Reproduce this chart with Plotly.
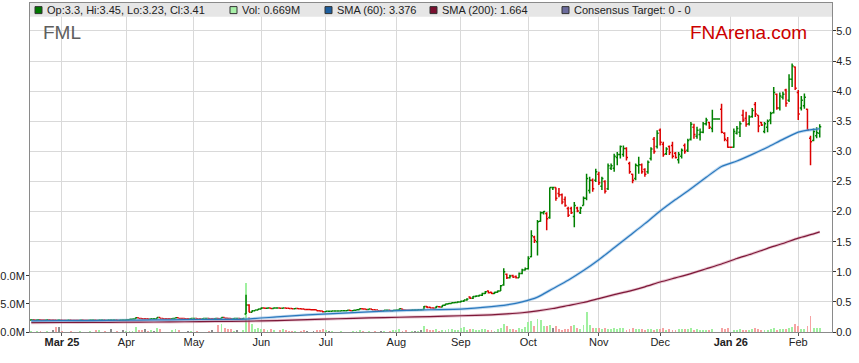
import plotly.graph_objects as go
import pandas as pd

# ---------------- DATA ----------------
# weekday calendar used by the chart (holidays appear as flat bars)
dates = [d.strftime("%Y-%m-%d") for d in pd.bdate_range("2025-02-17", "2026-02-11")]

opens = [
    .200, .205, .200, .205, .200, .200, .205, .200, .200, .200,
    .200, .195, .195, .200, .195, .195, .195, .200, .195, .195,
    .200, .200, .195, .200, .200, .195, .200, .200, .200, .195,
    .200, .200, .205, .210, .215, .235, .225, .220, .220, .215,
    .220, .220, .240, .225, .220, .220, .220, .225, .235, .225,
    .225, .220, .220, .225, .225, .220, .220, .225, .225, .220,
    .220, .225, .220, .240, .230, .225, .220, .225, .225, .220,
    .300, .450, .330, .355, .365, .380, .400, .395, .400, .390,
    .400, .400, .395, .400, .395, .390, .385, .390, .385, .380,
    .375, .375, .370, .370, .355, .350, .335, .345, .345, .350,
    .350, .350, .355, .355, .360, .355, .360, .370, .385, .380,
    .375, .380, .370, .365, .355, .355, .360, .360, .355, .360,
    .365, .380, .365, .360, .360, .365, .365, .370, .375, .425,
    .410, .400, .400, .420, .415, .445, .465, .475, .485, .490,
    .50, .51, .53, .58, .56, .59, .60, .61, .64, .68,
    .66, .64, .66, .68, .78, .96, .90, .94, .92, .90,
    .97, 1.03, 1.05, 1.25, 1.58, 1.50, 1.84, 1.98, 1.97, 1.90,
    2.40, 2.40, 2.30, 2.28, 2.20, 2.05, 2.05, 1.92, 2.06, 1.98,
    2.10, 2.22, 2.35, 2.52, 2.52, 2.62, 2.42, 2.50, 2.38, 2.72,
    2.72, 2.90, 2.95, 2.95, 3.05, 2.80, 2.62, 2.55, 2.76, 2.78,
    2.70, 2.66, 2.88, 3.20, 3.08, 3.35, 3.12, 2.96, 3.08, 3.10,
    2.97, 2.86, 2.92, 3.10, 3.02, 3.20, 3.40, 3.25, 3.28, 3.32,
    3.46, 3.48, 3.38, 3.54, 3.54, 3.70, 3.30, 3.18, 3.07, 3.07,
    3.30, 3.32, 3.60, 3.55, 3.46, 3.58, 3.78, 3.60, 3.48, 3.33,
    3.40, 3.52, 3.64, 3.95, 3.72, 3.90, 4.02, 3.85, 4.20, 4.40,
    3.98, 3.72, 3.76, 3.70, 3.22, 3.18, 3.26, 3.30,
]

highs = [
    .210, .210, .205, .210, .205, .210, .210, .205, .205, .205,
    .200, .200, .200, .200, .200, .200, .200, .200, .200, .200,
    .205, .200, .200, .205, .200, .200, .205, .200, .200, .200,
    .205, .205, .210, .215, .240, .235, .225, .225, .220, .220,
    .225, .245, .240, .225, .220, .220, .225, .240, .235, .225,
    .225, .225, .225, .230, .225, .225, .225, .230, .225, .225,
    .225, .225, .245, .240, .230, .225, .225, .230, .225, .225,
    .620, .460, .360, .370, .385, .410, .400, .405, .400, .405,
    .400, .400, .405, .400, .395, .390, .395, .390, .385, .380,
    .380, .375, .375, .370, .355, .350, .345, .350, .350, .355,
    .355, .360, .360, .365, .360, .365, .375, .390, .385, .380,
    .385, .380, .370, .365, .360, .365, .365, .360, .365, .370,
    .390, .385, .365, .365, .370, .370, .375, .375, .430, .430,
    .420, .410, .430, .430, .450, .470, .480, .490, .500, .510,
    .52, .53, .56, .59, .60, .61, .62, .65, .68, .69,
    .67, .67, .69, .78, 1.06, .97, .95, .95, .94, .99,
    1.05, 1.07, 1.26, 1.69, 1.60, 1.86, 2.00, 2.01, 1.99, 2.40,
    2.40, 2.40, 2.39, 2.30, 2.25, 2.08, 2.08, 2.16, 2.08, 2.08,
    2.25, 2.63, 2.58, 2.55, 2.71, 2.66, 2.58, 2.52, 2.80, 2.80,
    2.96, 2.99, 3.10, 3.10, 3.07, 2.83, 2.63, 2.80, 2.91, 2.80,
    2.72, 2.85, 3.07, 3.24, 3.35, 3.38, 3.16, 3.07, 3.10, 3.16,
    2.99, 2.99, 3.05, 3.13, 3.21, 3.49, 3.46, 3.41, 3.38, 3.49,
    3.56, 3.49, 3.69, 3.54, 3.54, 3.79, 3.32, 3.24, 3.07, 3.38,
    3.42, 3.50, 3.69, 3.66, 3.60, 3.72, 3.82, 3.60, 3.49, 3.49,
    3.53, 3.66, 4.07, 3.96, 3.98, 3.99, 4.04, 4.28, 4.46, 4.41,
    4.02, 3.92, 3.96, 3.71, 3.26, 3.38, 3.40, 3.45,
]

lows = [
    .200, .200, .195, .200, .195, .200, .200, .195, .195, .195,
    .195, .190, .195, .195, .190, .195, .195, .195, .190, .195,
    .200, .195, .195, .200, .195, .195, .200, .195, .195, .195,
    .200, .200, .205, .210, .215, .225, .220, .215, .215, .215,
    .220, .220, .225, .220, .220, .220, .220, .225, .225, .225,
    .220, .220, .220, .225, .220, .220, .220, .225, .220, .220,
    .220, .220, .220, .230, .225, .220, .220, .225, .220, .220,
    .300, .330, .330, .355, .365, .380, .390, .395, .390, .390,
    .400, .395, .395, .395, .390, .385, .385, .385, .380, .375,
    .370, .370, .365, .355, .345, .325, .335, .340, .345, .345,
    .345, .350, .350, .355, .355, .355, .360, .370, .375, .370,
    .375, .365, .360, .355, .350, .355, .355, .355, .355, .355,
    .360, .360, .355, .355, .355, .360, .360, .360, .370, .400,
    .395, .390, .395, .410, .410, .440, .460, .470, .480, .485,
    .49, .50, .52, .55, .55, .58, .59, .60, .63, .64,
    .63, .63, .65, .68, .77, .88, .89, .90, .89, .90,
    .96, 1.02, 1.04, 1.24, 1.48, 1.27, 1.83, 1.95, 1.69, 1.88,
    2.36, 2.18, 2.24, 2.12, 2.08, 1.91, 1.96, 1.74, 1.99, 1.96,
    2.10, 2.19, 2.30, 2.33, 2.49, 2.44, 2.36, 2.30, 2.36, 2.69,
    2.66, 2.77, 2.88, 2.91, 2.85, 2.63, 2.47, 2.52, 2.63, 2.63,
    2.58, 2.63, 2.85, 2.96, 3.05, 3.10, 2.91, 2.94, 2.94, 2.88,
    2.88, 2.80, 2.88, 2.96, 2.99, 3.18, 3.21, 3.21, 3.18, 3.30,
    3.43, 3.37, 3.32, 3.54, 3.54, 3.30, 3.17, 3.06, 3.07, 3.06,
    3.28, 3.24, 3.49, 3.41, 3.43, 3.56, 3.57, 3.32, 3.42, 3.30,
    3.32, 3.45, 3.63, 3.69, 3.68, 3.86, 3.74, 3.82, 4.07, 4.02,
    3.52, 3.68, 3.71, 3.35, 2.77, 3.17, 3.22, 3.23,
]

closes = [
    .205, .200, .205, .200, .200, .205, .200, .200, .195, .200,
    .195, .195, .200, .195, .195, .195, .200, .195, .195, .200,
    .200, .195, .200, .200, .195, .200, .200, .200, .195, .200,
    .200, .205, .210, .215, .235, .225, .220, .220, .215, .220,
    .220, .240, .225, .220, .220, .220, .225, .235, .225, .225,
    .220, .220, .225, .225, .220, .220, .225, .225, .220, .220,
    .225, .220, .240, .230, .225, .220, .225, .225, .220, .225,
    .450, .330, .355, .365, .380, .400, .395, .400, .390, .400,
    .400, .395, .400, .395, .390, .385, .390, .385, .380, .375,
    .375, .370, .370, .355, .350, .335, .345, .345, .350, .350,
    .350, .355, .355, .360, .355, .360, .370, .385, .380, .375,
    .380, .370, .365, .355, .355, .360, .360, .355, .360, .365,
    .385, .365, .360, .360, .365, .365, .370, .370, .425, .405,
    .400, .395, .425, .415, .445, .465, .475, .485, .490, .500,
    .51, .53, .55, .56, .59, .60, .61, .64, .67, .65,
    .64, .66, .68, .77, 1.00, .90, .93, .91, .90, .97,
    1.03, 1.05, 1.22, 1.60, 1.52, 1.83, 1.98, 2.00, 1.88, 2.40,
    2.40, 2.22, 2.28, 2.16, 2.10, 1.94, 1.98, 2.10, 2.01, 2.06,
    2.22, 2.55, 2.52, 2.38, 2.66, 2.48, 2.55, 2.34, 2.76, 2.76,
    2.92, 2.95, 3.08, 3.05, 2.90, 2.66, 2.52, 2.77, 2.78, 2.66,
    2.62, 2.82, 3.04, 3.00, 3.30, 3.15, 2.95, 3.04, 2.98, 2.92,
    2.90, 2.95, 3.02, 3.00, 3.18, 3.45, 3.28, 3.35, 3.32, 3.46,
    3.52, 3.40, 3.54, 3.54, 3.54, 3.32, 3.20, 3.07, 3.07, 3.33,
    3.38, 3.46, 3.52, 3.45, 3.57, 3.68, 3.62, 3.42, 3.44, 3.46,
    3.50, 3.63, 3.98, 3.72, 3.92, 3.95, 3.80, 4.20, 4.42, 4.05,
    3.62, 3.85, 3.90, 3.36, 3.16, 3.33, 3.31, 3.41,
]

volumes_m = [
    0.20, 0.05, 0.10, 0.20, 0.05, 0.10, 0.05, 0.30, 0.85, 0.90,
    0.10, 0.05, 0.05, 0.10, 0.05, 0.05, 0.10, 0.05, 0.05, 0.10,
    0.05, 0.35, 0.30, 0.05, 0.10, 0.05, 0.60, 0.05, 0.10, 0.05,
    0.30, 0.20, 0.25, 0.10, 0.90, 0.40, 0.30, 0.50, 0.20, 0.40,
    0.10, 0.70, 0.60, 0.05, 0.00, 0.00, 0.30, 0.50, 0.30, 0.00,
    0.05, 0.10, 0.10, 0.05, 0.10, 0.05, 0.05, 0.05, 0.10, 0.30,
    0.05, 1.20, 1.40, 0.80, 0.60, 0.50, 0.10, 0.40, 0.05, 0.30,
    8.70, 2.70, 1.50, 0.50, 0.80, 0.50, 0.60, 0.40, 0.50, 0.30,
    0.00, 0.40, 0.50, 0.30, 0.20, 0.10, 0.20, 0.05, 0.10, 0.30,
    0.10, 0.05, 0.20, 0.40, 0.30, 0.50, 0.40, 0.20, 0.10, 0.05,
    0.05, 0.10, 0.05, 0.05, 0.05, 0.10, 0.20, 0.40, 0.10, 0.05,
    0.20, 0.05, 0.10, 0.05, 0.15, 0.10, 0.05, 0.20, 0.30, 0.40,
    0.60, 0.20, 0.30, 0.05, 0.10, 0.20, 0.20, 0.30, 1.10, 0.50,
    0.40, 0.30, 0.50, 0.20, 0.40, 0.40, 0.50, 0.60, 0.30, 0.40,
    0.70, 0.90, 0.40, 0.50, 0.60, 0.40, 0.30, 0.60, 0.50, 0.30,
    0.40, 0.20, 0.50, 0.80, 1.40, 1.10, 0.60, 0.50, 0.40, 0.70,
    0.50, 0.90, 1.70, 2.00, 1.10, 2.40, 2.10, 1.00, 1.10, 1.20,
    0.70, 1.10, 0.60, 0.40, 0.60, 0.50, 1.00, 1.20, 0.70, 0.60,
    1.20, 3.60, 1.20, 0.70, 0.80, 0.70, 0.60, 0.70, 0.60, 0.60,
    0.80, 0.50, 0.70, 0.70, 0.40, 0.50, 0.80, 0.60, 0.60, 0.50,
    0.40, 0.50, 0.60, 0.30, 0.60, 0.50, 0.70, 0.40, 0.50, 0.40,
    0.30, 0.50, 0.50, 0.60, 0.50, 0.80, 0.40, 0.50, 0.30, 0.40,
    0.40, 0.30, 0.60, 0.00, 0.00, 0.80, 0.50, 0.70, 0.00, 0.30,
    0.40, 0.50, 0.40, 0.40, 0.30, 0.50, 0.70, 0.50, 0.30, 0.40,
    0.40, 0.50, 0.80, 0.40, 0.60, 0.50, 0.60, 0.80, 0.90, 1.40,
    1.00, 0.60, 0.50, 1.10, 2.80, 0.80, 0.70, 0.669,
]

# moving averages at selected bars
sma_bar = [0, 10, 20, 30, 40, 50, 60, 70, 80, 90, 100, 110, 120, 130, 140,
           150, 155, 160, 165, 170, 175, 180, 185, 190, 195, 200, 205, 210,
           215, 220, 225, 230, 235, 240, 245, 250, 255, 257]
sma60 = [0.185, 0.19, 0.19, 0.195, 0.20, 0.205, 0.21, 0.215, 0.25, 0.285,
         0.31, 0.335, 0.355, 0.37, 0.38, 0.42, 0.45, 0.50, 0.58, 0.72, 0.86,
         1.02, 1.20, 1.40, 1.60, 1.80, 2.01, 2.20, 2.38, 2.57, 2.75, 2.84,
         2.95, 3.07, 3.20, 3.32, 3.365, 3.376]
sma200 = [0.155, 0.158, 0.16, 0.163, 0.166, 0.17, 0.175, 0.18, 0.19, 0.205,
          0.22, 0.235, 0.245, 0.255, 0.27, 0.285, 0.30, 0.32, 0.35, 0.39,
          0.44, 0.49, 0.555, 0.62, 0.68, 0.75, 0.83, 0.90, 0.97, 1.05, 1.13,
          1.22, 1.30, 1.39, 1.47, 1.56, 1.63, 1.664]

month_labels = ["<b>Mar 25</b>", "Apr", "May", "Jun", "Jul", "Aug", "Sep",
                "Oct", "Nov", "Dec", "<b>Jan 26</b>", "Feb"]
price_ticks = [0.0, 0.5, 1.0, 1.5, 2.0, 2.5, 3.0, 3.5, 4.0, 4.5, 5.0]
vol_ticks = [0, 5, 10]

assert len(dates) == len(opens) == len(highs) == len(lows) == len(closes) == len(volumes_m)

# ---------------- FIGURE ----------------
W, H = 859, 363
L, R, T, B = 30, 27, 3, 31
PW, PH = W - L - R, H - T - B


def xp(px):
    return (px - L) / PW


def yp(py):
    return (H - B - py) / PH


FONT = "Arial, Liberation Sans, sans-serif"

vol_colors = []
for o, c in zip(opens, closes):
    if c > o:
        vol_colors.append("#a0f0a0")
    elif c < o:
        vol_colors.append("#f6a3a3")
    else:
        vol_colors.append("#8c8c8c")

fig = go.Figure()

fig.add_trace(go.Bar(
    x=dates, y=volumes_m, marker=dict(color=vol_colors, line=dict(width=0)),
    width=0.62, yaxis="y", hoverinfo="skip", showlegend=False))

sx = [dates[k] for k in sma_bar]
for vals, glow, core in ((sma200, "rgba(205,130,155,0.45)", "#7d1838"),
                         (sma60, "rgba(130,180,225,0.5)", "#2a78bd")):
    fig.add_trace(go.Scatter(x=sx, y=vals, mode="lines", yaxis="y2",
                             line=dict(color=glow, width=3.0, shape="spline", smoothing=0.6),
                             hoverinfo="skip", showlegend=False))
    fig.add_trace(go.Scatter(x=sx, y=vals, mode="lines", yaxis="y2",
                             line=dict(color=core, width=1.2, shape="spline", smoothing=0.6),
                             hoverinfo="skip", showlegend=False))

fig.add_trace(go.Ohlc(
    x=dates, open=opens, high=highs, low=lows, close=closes, yaxis="y2",
    increasing=dict(line=dict(color="#008000", width=1.5)),
    decreasing=dict(line=dict(color="#dd0000", width=1.5)),
    tickwidth=0.5, showlegend=False, hoverinfo="skip"))

# month ticks: first bar of each month
month_first = []
seen = set()
for d in dates:
    ym = d[:7]
    if ym not in seen:
        seen.add(ym)
        month_first.append(d)
month_first = month_first[1:1 + len(month_labels)]

fig.update_layout(
    width=W, height=H,
    margin=dict(l=L, r=R, t=T, b=B, autoexpand=False),
    paper_bgcolor="white", plot_bgcolor="white",
    font=dict(family=FONT, size=11, color="#222222"),
    showlegend=False,
    bargap=0,
    hovermode=False,
    xaxis=dict(
        type="category", range=[-0.42, 261.0], rangeslider=dict(visible=False),
        tickmode="array", tickvals=month_first, ticktext=month_labels,
        showgrid=True, gridcolor="#d9d9d9", gridwidth=1,
        showline=True, linecolor="#8a8a8a", linewidth=1, mirror=True,
        ticks="outside", ticklen=3, tickcolor="#555555", automargin=False,
        ticklabelstandoff=-3,
        tickfont=dict(size=11, color="#222222"), zeroline=False,
    ),
    yaxis=dict(
        range=[0, 58.5], side="left", tickmode="array", tickvals=vol_ticks,
        ticktext=[f"{v:.1f}M" for v in vol_ticks], automargin=False,
        showgrid=False, zeroline=False, showline=True, linecolor="#8a8a8a",
        ticks="outside", ticklen=3, tickcolor="#333333", ticklabelstandoff=-1,
        tickfont=dict(size=11, color="#222222"), fixedrange=True,
    ),
    yaxis2=dict(
        range=[0, 5.465], side="right", overlaying="y", tickmode="array",
        tickvals=price_ticks, ticktext=[f"{v:.1f}" for v in price_ticks],
        showgrid=True, gridcolor="#d9d9d9", gridwidth=1, zeroline=False,
        showline=True, linecolor="#8a8a8a", ticks="outside", ticklen=3,
        tickcolor="#333333", tickfont=dict(size=11, color="#222222"),
        ticklabelstandoff=-2, automargin=False,
    ),
)

# header band with legend entries
shapes = [dict(type="rect", xref="paper", yref="paper", x0=0, x1=1,
               y0=yp(16.7), y1=1, fillcolor="#e6e6e6", line=dict(width=0),
               layer="above")]
annotations = []
legend_items = [
    (f"Op:{opens[-1]:g}, Hi:{highs[-1]:g}, Lo:{lows[-1]:g}, Cl:{closes[-1]:g}", "#007800", 35),
    (f"Vol: {volumes_m[-1]:g}M", "#a8f0a8", 230),
    (f"SMA (60): {sma60[-1]:g}", "#1d5f9f", 325),
    (f"SMA (200): {sma200[-1]:g}", "#7a1030", 430),
    ("Consensus Target: 0 - 0", "#6b6b9c", 562),
]
for text, col, px in legend_items:
    shapes.append(dict(type="rect", xref="paper", yref="paper",
                       x0=xp(px), x1=xp(px + 7), y0=yp(13.6), y1=yp(6.6),
                       fillcolor=col, line=dict(color="#333333", width=1), layer="above"))
    annotations.append(dict(text=text, xref="paper", yref="paper", x=xp(px + 10),
                            y=yp(10.3), xanchor="left", yanchor="middle", showarrow=False,
                            font=dict(family=FONT, size=11, color="#222222")))

annotations.append(dict(text="FML", xref="paper", yref="paper", x=xp(41), y=yp(32.5),
                        xanchor="left", yanchor="middle", showarrow=False,
                        font=dict(family=FONT, size=19, color="#5e5e5e")))
annotations.append(dict(text="FNArena.com", xref="paper", yref="paper", x=xp(809),
                        y=yp(32.5), xanchor="right", yanchor="middle", showarrow=False,
                        font=dict(family=FONT, size=19, color="#cc0000")))

fig.update_layout(shapes=shapes, annotations=annotations)

fig.write_html("out.html", config={"displayModeBar": False, "staticPlot": True},
               post_script="document.body.style.margin='0';document.body.style.padding='0';")
